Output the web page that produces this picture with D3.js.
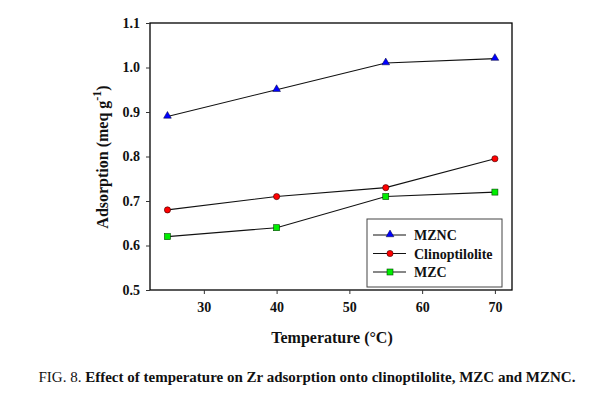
<!DOCTYPE html>
<html>
<head>
<meta charset="utf-8">
<script src="https://cdn.jsdelivr.net/npm/d3@7"></script>
<style>
  body { margin: 0; background: #fff; }
  svg text { font-family: "Liberation Serif", "Times New Roman", serif; }
</style>
</head>
<body>
<svg width="612" height="397"></svg>
<script>
var temps = [25, 40, 55, 70];
var mznc = [0.89, 0.95, 1.01, 1.02];
var clino = [0.68, 0.71, 0.73, 0.795];
var mzc = [0.62, 0.64, 0.71, 0.72];
var xTicks = [30, 40, 50, 60, 70];
var yTicks = [0.5, 0.6, 0.7, 0.8, 0.9, 1.0, 1.1];

var series = [
    {name: 'MZNC', values: mznc, shape: 'triangle', fill: '#0000ff'},
    {name: 'Clinoptilolite', values: clino, shape: 'circle', fill: '#ff0000'},
    {name: 'MZC', values: mzc, shape: 'square', fill: '#00ee00'}
];

var svg = d3.select('svg');
var plotL = 150, plotR = 512, plotT = 23, plotB = 290;

var x = d3.scaleLinear().domain([22.6, 72.35]).range([plotL, plotR]);
var y = d3.scaleLinear().domain([0.5, 1.1]).range([plotB, plotT]);

// frame
svg.append('rect')
    .attr('x', plotL).attr('y', plotT)
    .attr('width', plotR - plotL).attr('height', plotB - plotT)
    .attr('fill', 'none').attr('stroke', '#000').attr('stroke-width', 1.3);

var xAxis = svg.append('g')
    .attr('transform', 'translate(0,' + plotB + ')')
    .call(d3.axisBottom(x).tickValues(xTicks).tickSize(4).tickPadding(8).tickFormat(d3.format('d')));
var yAxis = svg.append('g')
    .attr('transform', 'translate(' + plotL + ',0)')
    .call(d3.axisLeft(y).tickValues(yTicks).tickSize(4).tickPadding(6).tickFormat(d3.format('.1f')));

[xAxis, yAxis].forEach(function (g) {
    g.select('.domain').remove();
    g.selectAll('text')
        .style('font-family', '"Liberation Serif", serif')
        .style('font-size', '14px')
        .style('font-weight', 'bold')
        .attr('fill', '#111');
    g.selectAll('line').attr('stroke', '#333');
});

var line = d3.line()
    .x(function (d) { return x(d[0]); })
    .y(function (d) { return y(d[1]); });

function marker(g, shape, fill) {
    if (shape === 'triangle') {
        g.append('path').attr('d', d3.symbol(d3.symbolTriangle, 26)())
            .attr('transform', 'translate(0,-0.5)')
            .attr('fill', fill).attr('stroke', '#000033').attr('stroke-width', 0.5);
    } else if (shape === 'circle') {
        g.append('circle').attr('r', 3.1)
            .attr('fill', fill).attr('stroke', '#330000').attr('stroke-width', 0.6);
    } else {
        g.append('rect').attr('x', -3).attr('y', -3).attr('width', 6).attr('height', 6)
            .attr('fill', fill).attr('stroke', '#004400').attr('stroke-width', 0.6);
    }
}

series.forEach(function (s) {
    var pts = temps.map(function (t, i) { return [t, s.values[i]]; });
    svg.append('path')
        .datum(pts)
        .attr('d', line)
        .attr('fill', 'none')
        .attr('stroke', '#111')
        .attr('stroke-width', 1.1);
    pts.forEach(function (p) {
        var g = svg.append('g').attr('transform', 'translate(' + x(p[0]) + ',' + y(p[1]) + ')');
        marker(g, s.shape, s.fill);
    });
});

// legend
var lg = svg.append('g');
lg.append('rect')
    .attr('x', 367).attr('y', 219).attr('width', 135).attr('height', 68)
    .attr('fill', '#fff').attr('stroke', '#444').attr('stroke-width', 1);
series.forEach(function (s, i) {
    var yy = 235 + i * 18.5;
    lg.append('line').attr('x1', 373).attr('x2', 406).attr('y1', yy).attr('y2', yy)
        .attr('stroke', '#111').attr('stroke-width', 1.1);
    marker(lg.append('g').attr('transform', 'translate(390,' + yy + ')'), s.shape, s.fill);
    lg.append('text').attr('x', 414).attr('y', yy + 5)
        .attr('font-size', '14px').attr('font-weight', 'bold').attr('fill', '#111')
        .text(s.name);
});

// axis titles
svg.append('text')
    .attr('x', 332).attr('y', 343)
    .attr('text-anchor', 'middle')
    .attr('font-size', '16px').attr('font-weight', 'bold').attr('fill', '#111')
    .text('Temperature (\u00B0C)');

var yt = svg.append('text')
    .attr('transform', 'translate(108,157) rotate(-90)')
    .attr('text-anchor', 'middle')
    .attr('font-size', '16px').attr('font-weight', 'bold').attr('fill', '#111');
yt.append('tspan').text('Adsorption (meq g');
yt.append('tspan').attr('dy', -7).attr('font-size', '12px').text('-1');
yt.append('tspan').attr('dy', 7).text(')');

// caption
var cap = svg.append('text')
    .attr('x', 307).attr('y', 382)
    .attr('text-anchor', 'middle')
    .attr('font-size', '15px').attr('fill', '#111');
cap.append('tspan').text('FIG. 8. ');
cap.append('tspan').attr('font-weight', 'bold')
    .text('Effect of temperature on Zr adsorption onto clinoptilolite, MZC and MZNC.');
</script>
</body>
</html>
